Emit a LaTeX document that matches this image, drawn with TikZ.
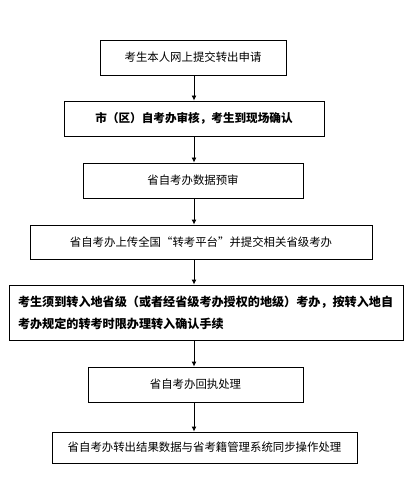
\documentclass[tikz,border=0pt]{standalone}
\usepackage{fontspec}
\setmainfont{Noto Sans CJK SC}
\usetikzlibrary{arrows.meta}
\tikzset{
  boxnode/.style={draw=black, line width=0.9pt, minimum height=#1, inner sep=0pt, font=\fontsize{11.4}{22}\selectfont},
  flowarrow/.style={line width=0.9pt, -{Latex[length=5pt,width=5pt]}}
}
\begin{document}
\begin{tikzpicture}[x=1pt,y=1pt]
\useasboundingbox (0,0) rectangle (413,-486);
\fill[white] (0,0) rectangle (413,-486);
\node[boxnode=35pt, minimum width=186pt] (b1) at (193,-57.5) {考生本人网上提交转出申请};
\node[boxnode=35pt, minimum width=260pt, font=\fontsize{11.6}{22}\selectfont\bfseries] (b2) at (194,-118.5) {市（区）自考办审核，考生到现场确认};
\node[boxnode=35pt, minimum width=220pt] (b3) at (193,-180.5) {省自考办数据预审};
\node[boxnode=34pt, minimum width=342pt] (b4) at (201,-242) {省自考办上传全国“转考平台”并提交相关省级考办};
\node[boxnode=55pt, minimum width=386pt, text width=376pt, align=left, inner xsep=9pt, font=\fontsize{12.1}{22}\selectfont\bfseries] (b5) at (206,-312.5) {考生须到转入地省级（或者经省级考办授权的地级）考办，按转入地自\\考办规定的转考时限办理转入确认手续};
\node[boxnode=35pt, minimum width=215pt] (b6) at (195.5,-384.5) {省自考办回执处理};
\node[boxnode=31pt, minimum width=305pt] (b7) at (204.5,-447.5) {省自考办转出结果数据与省考籍管理系统同步操作处理};
\coordinate (ax) at (194,0);
\draw[flowarrow] (b1.south -| ax) -- (b2.north -| ax);
\draw[flowarrow] (b2.south -| ax) -- (b3.north -| ax);
\draw[flowarrow] (b3.south -| ax) -- (b4.north -| ax);
\draw[flowarrow] (b4.south -| ax) -- (b5.north -| ax);
\draw[flowarrow] (b5.south -| ax) -- (b6.north -| ax);
\draw[flowarrow] (b6.south -| ax) -- (b7.north -| ax);
\end{tikzpicture}
\end{document}
